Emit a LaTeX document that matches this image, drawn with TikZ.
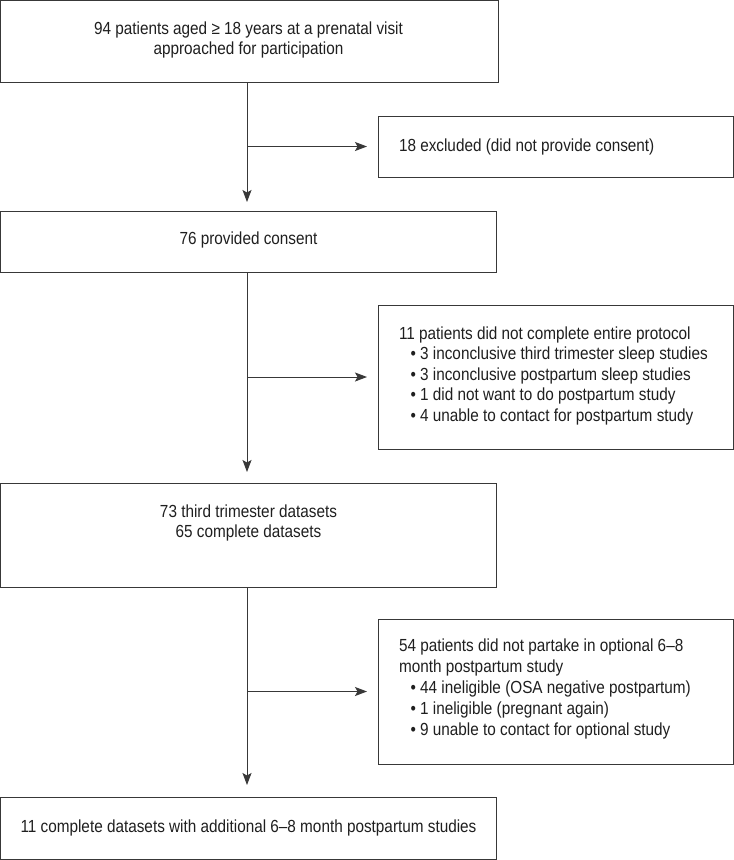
\documentclass[tikz,border=0pt]{standalone}
\usepackage{fontspec}
\setmainfont{Liberation Sans}[FakeStretch=0.875]
\usetikzlibrary{arrows.meta}
\begin{document}
\begin{tikzpicture}[x=1pt,y=-1pt,
  box/.style={draw=black!78, line width=1pt, rectangle, inner sep=0pt, outer sep=0pt, anchor=north west},
  txt/.style={inner sep=0pt, outer sep=0pt, font=\fontsize{17.5}{20.6}\selectfont, text=black!88, yshift=-3.5pt},
  lt/.style={txt, anchor=mid west},
  ct/.style={txt, anchor=mid},
  arr/.style={draw=black!78, line width=1pt, shorten >=10pt, -{Stealth[length=12pt,width=9pt,inset=2.5pt]}}]
\useasboundingbox (0,0) rectangle (734,860);
\fill[white] (0,0) rectangle (734,860);

% boxes
\node[box, minimum width=498pt, minimum height=81.5pt] (b1) at (0.5,0.5) {};
\node[box, minimum width=355.5pt, minimum height=61pt] (ex) at (378,116) {};
\node[box, minimum width=495.5pt, minimum height=61pt] (b2) at (0.5,211) {};
\node[box, minimum width=355.5pt, minimum height=144pt] (b3) at (378,305) {};
\node[box, minimum width=495.5pt, minimum height=104pt] (b4) at (0.5,483) {};
\node[box, minimum width=355.5pt, minimum height=145pt] (b5) at (378,619) {};
\node[box, minimum width=495.5pt, minimum height=62pt] (b6) at (0.5,797) {};

% texts
\node[ct] (t1a) at (248.5,28) {94 patients aged ≥ 18 years at a prenatal visit};
\node[ct] (t1b) at (248.5,48.5) {approached for participation};
\node[lt] (tex) at (399,145.5) {18 excluded (did not provide consent)};
\node[ct] (t2) at (248.5,238) {76 provided consent};

\node[lt] (t3a) at (399,333) {11 patients did not complete entire protocol};
\node[lt] (t3b) at (410.5,353.5) {•\hspace{4.3pt}3 inconclusive third trimester sleep studies};
\node[lt] (t3c) at (410.5,374) {•\hspace{4.3pt}3 inconclusive postpartum sleep studies};
\node[lt] (t3d) at (410.5,394.5) {•\hspace{4.3pt}1 did not want to do postpartum study};
\node[lt] (t3e) at (410.5,415) {•\hspace{4.3pt}4 unable to contact for postpartum study};

\node[ct] (t4a) at (248.5,511) {73 third trimester datasets};
\node[ct] (t4b) at (248.5,531.5) {65 complete datasets};

\node[lt] (t5a) at (399,645.5) {54 patients did not partake in optional 6–8};
\node[lt] (t5b) at (399,666.5) {month postpartum study};
\node[lt] (t5c) at (410.5,687.5) {•\hspace{4.3pt}44 ineligible (OSA negative postpartum)};
\node[lt] (t5d) at (410.5,708.5) {•\hspace{4.3pt}1 ineligible (pregnant again)};
\node[lt] (t5e) at (410.5,729.5) {•\hspace{4.3pt}9 unable to contact for optional study};

\node[ct] (t6) at (248.5,826) {11 complete datasets with additional 6–8 month postpartum studies};

% connectors
\coordinate (t) at (247,0);
\draw[arr, shorten >=9pt] (b1.south -| t) -- (b2.north -| t);
\draw[arr, shorten >=11pt] (ex.west -| t) -- (ex.west);
\draw[arr, shorten >=11pt] (b2.south -| t) -- (b4.north -| t);
\draw[arr, shorten >=11pt] (b3.west -| t) -- (b3.west);
\draw[arr, shorten >=12pt] (b4.south -| t) -- (b6.north -| t);
\draw[arr, shorten >=11pt] (b5.west -| t) -- (b5.west);
\end{tikzpicture}
\end{document}
